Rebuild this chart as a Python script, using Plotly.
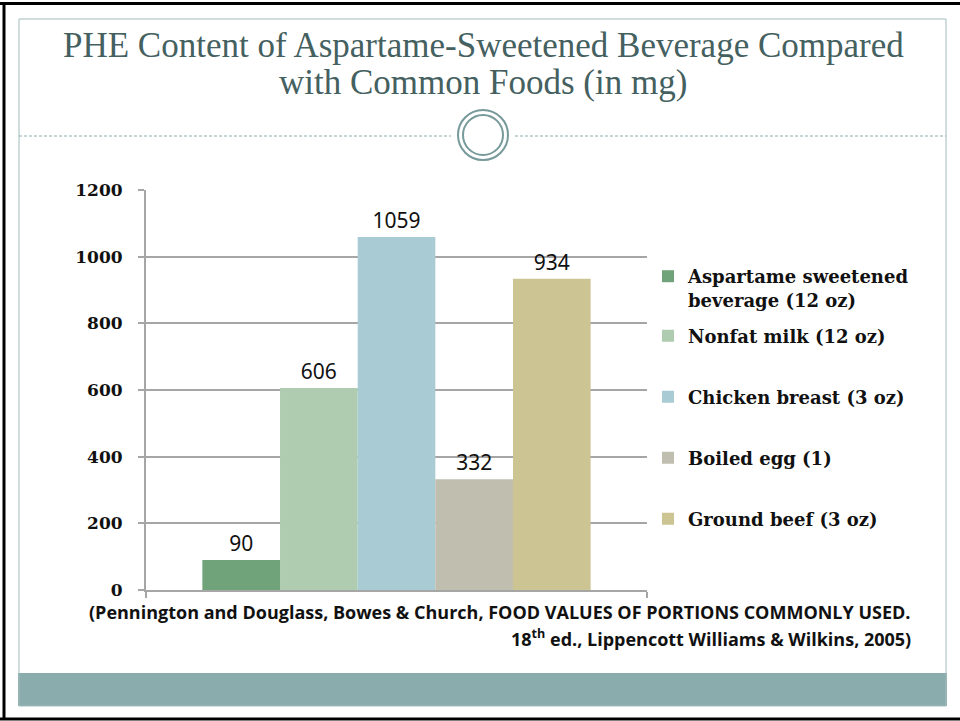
import plotly.graph_objects as go

# ---- data ----
categories = ["PHE"]
series_names = [
    "Aspartame sweetened<br>beverage (12 oz)",
    "Nonfat milk (12 oz)",
    "Chicken breast (3 oz)",
    "Boiled egg (1)",
    "Ground beef (3 oz)",
]
series_values = [90, 606, 1059, 332, 934]
series_colors = ["#71a37a", "#b0ccb0", "#a9ccd4", "#c0beae", "#cdc494"]
y_ticks = [0, 200, 400, 600, 800, 1000, 1200]

title_lines = ["PHE Content of Aspartame-Sweetened Beverage Compared",
               "with Common Foods (in mg)"]
source_lines = ["(Pennington and Douglass, Bowes &amp; Church, FOOD VALUES OF PORTIONS COMMONLY USED.",
                "18<sup>th</sup> ed., Lippencott Williams &amp; Wilkins, 2005)"]

# ---- layout geometry (pixels) ----
W, H = 960, 721
L, R, T, B = 146, 647, 190, 590


def px(x):
    return (x - L) / (R - L)


def py(y):
    return (B - y) / (B - T)


fig = go.Figure()
legend_ids = ["legend", "legend2", "legend3", "legend4", "legend5"]
for name, val, col, lg in zip(series_names, series_values, series_colors, legend_ids):
    fig.add_trace(go.Bar(
        x=categories, y=[val], name=name, marker=dict(color=col, line=dict(width=0)),
        text=[str(val)], textposition="outside", cliponaxis=False,
        textfont=dict(family="Noto Sans", size=21, color="#111111"),
        legend=lg,
    ))

legend_centers = [277, 336, 397, 458, 519]
legend_font = dict(family="DejaVu Serif", size=18, color="#111111", weight="bold")
layout_legends = {}
for i, (lg, cy) in enumerate(zip(legend_ids, legend_centers)):
    if i == 0:
        layout_legends[lg] = dict(x=px(648), y=py(cy - 19), xanchor="left", yanchor="top",
                                  valign="top", font=legend_font, bgcolor="rgba(0,0,0,0)",
                                  itemclick=False, itemdoubleclick=False)
    else:
        layout_legends[lg] = dict(x=px(648), y=py(cy), xanchor="left", yanchor="middle",
                                  font=legend_font, bgcolor="rgba(0,0,0,0)",
                                  itemclick=False, itemdoubleclick=False)

gray = "#a6a6a6"
chrome = "#8aacac"
shapes = [
    # bottom band
    dict(type="rect", xref="paper", yref="paper", x0=px(18), x1=px(947), y0=py(706), y1=py(673),
         fillcolor=chrome, line=dict(width=0), layer="below"),
    # inner frame
    dict(type="rect", xref="paper", yref="paper", x0=px(19), x1=px(946), y0=py(706), y1=py(19),
         line=dict(color="#a3bcbc", width=1), layer="below"),
    # dashed divider
    dict(type="line", xref="paper", yref="paper", x0=px(19), x1=px(451), y0=py(136), y1=py(136),
         line=dict(color=chrome, width=1, dash="3px,2px")),
    dict(type="line", xref="paper", yref="paper", x0=px(515), x1=px(946), y0=py(136), y1=py(136),
         line=dict(color=chrome, width=1, dash="3px,2px")),
    # double ring
    dict(type="circle", xref="paper", yref="paper", x0=px(458), x1=px(508), y0=py(160), y1=py(110),
         line=dict(color="#76999a", width=2), fillcolor="white"),
    dict(type="circle", xref="paper", yref="paper", x0=px(463), x1=px(503), y0=py(155), y1=py(115),
         line=dict(color="#76999a", width=2)),
    # outer black border (top, left, bottom)
    dict(type="line", xref="paper", yref="paper", x0=px(0), x1=px(960), y0=py(3.5), y1=py(3.5),
         line=dict(color="black", width=3)),
    dict(type="line", xref="paper", yref="paper", x0=px(4), x1=px(4), y0=py(2), y1=py(720),
         line=dict(color="black", width=3)),
    dict(type="line", xref="paper", yref="paper", x0=px(0), x1=px(960), y0=py(719), y1=py(719),
         line=dict(color="black", width=3)),
]

title_font = dict(family="Liberation Serif", size=35, color="#44605f")
source_font = dict(family="Open Sans", size=18, color="#111111", weight="bold")
annotations = [
    dict(xref="paper", yref="paper", x=px(483), y=py(46), xanchor="center", yanchor="middle",
         text=title_lines[0], showarrow=False, font=title_font),
    dict(xref="paper", yref="paper", x=px(483), y=py(82), xanchor="center", yanchor="middle",
         text=title_lines[1], showarrow=False, font=title_font),
    dict(xref="paper", yref="paper", x=px(913), y=py(612), xanchor="right", yanchor="middle",
         text=source_lines[0], showarrow=False, font=source_font),
    dict(xref="paper", yref="paper", x=px(913), y=py(638), xanchor="right", yanchor="middle",
         text=source_lines[1], showarrow=False, font=source_font),
]

fig.update_layout(
    width=W, height=H,
    margin=dict(l=L, r=W - R, t=T, b=H - B, pad=0),
    paper_bgcolor="white", plot_bgcolor="white",
    barmode="group", bargap=0.225, bargroupgap=0,
    shapes=shapes, annotations=annotations,
    showlegend=True,
    **layout_legends,
)
fig.update_xaxes(
    type="category", showticklabels=False, tickson="boundaries",
    ticks="outside", ticklen=6, tickwidth=2, tickcolor=gray,
    showline=True, linecolor=gray, linewidth=2, showgrid=False,
)
fig.update_yaxes(
    range=[0, 1200], tickvals=y_ticks, ticks="outside", ticklen=6, tickwidth=2, tickcolor=gray,
    showline=True, linecolor=gray, linewidth=2, showgrid=True, gridcolor=gray, gridwidth=2,
    zeroline=False, ticklabelstandoff=12,
    tickfont=dict(family="DejaVu Serif", size=17, color="#111111", weight="bold"),
)

fig.write_html("out.html")
